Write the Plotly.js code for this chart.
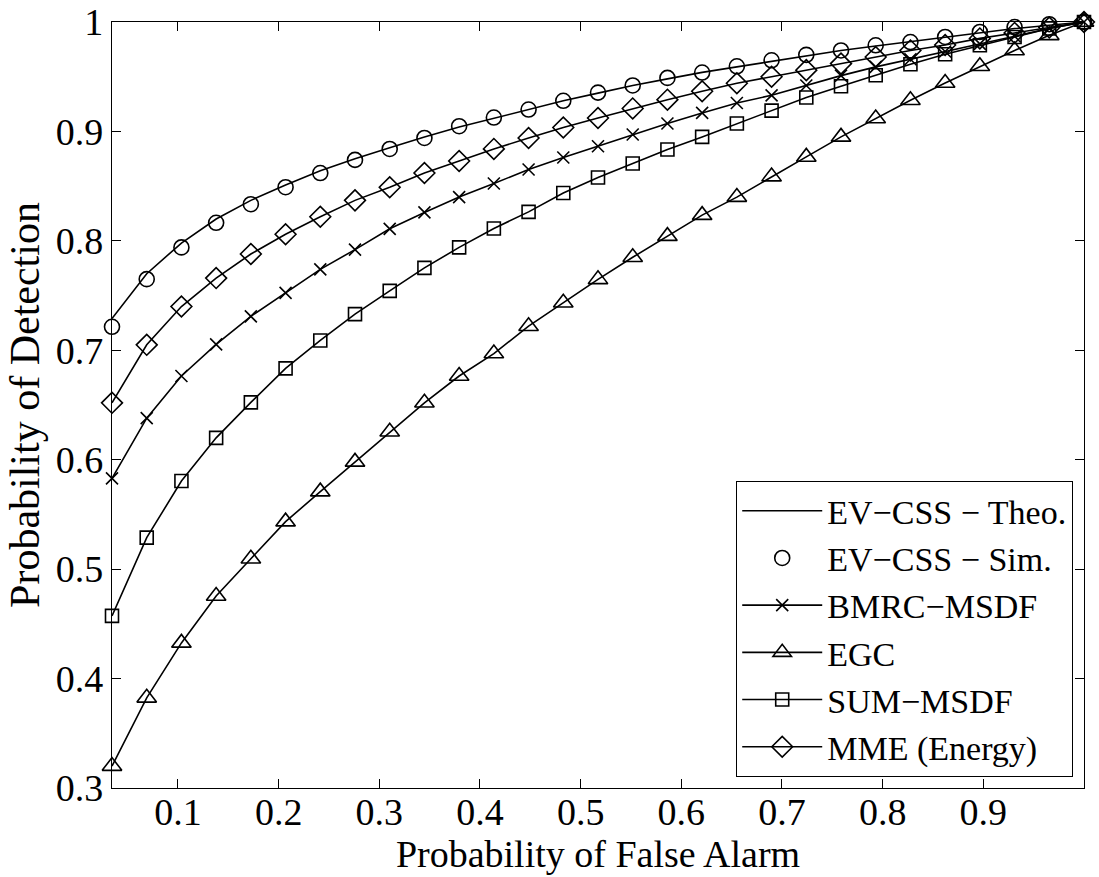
<!DOCTYPE html>
<html>
<head>
<meta charset="utf-8">
<script src="https://cdn.plot.ly/plotly-3.0.1.min.js"></script>
<style>html,body{margin:0;padding:0;background:#fff;}#chart{width:1099px;height:877px;}</style>
</head>
<body>
<div id="chart"></div>
<script>
// Probability of False Alarm (x)
var pfa = [0.03448,0.06897,0.10345,0.13793,0.17241,0.2069,0.24138,0.27586,0.31034,0.34483,
           0.37931,0.41379,0.44828,0.48276,0.51724,0.55172,0.58621,0.62069,0.65517,0.68966,
           0.72414,0.75862,0.7931,0.82759,0.86207,0.89655,0.93103,0.96552,1.0];

var evTheo = [0.729,0.770,0.798,0.820,0.837,0.851,0.864,0.875,0.885,0.895,0.904,0.912,0.920,0.928,0.935,
              0.942,0.948,0.954,0.959,0.964,0.969,0.974,0.978,0.982,0.986,0.990,0.994,0.997,1.0];
var evSim  = [0.7215,0.765,0.794,0.8165,0.8335,0.849,0.862,0.874,0.884,0.894,0.9048,0.9127,0.920,0.928,0.9355,
              0.942,0.9489,0.9538,0.9595,0.965,0.970,0.974,0.9787,0.9817,0.9863,0.9909,0.9954,0.998,1.0];
var bmrc   = [0.583,0.638,0.6765,0.7054,0.731,0.7525,0.774,0.792,0.811,0.826,0.840,0.8524,0.8652,0.8762,0.8865,
              0.8972,0.9072,0.9169,0.926,0.933,0.942,0.951,0.959,0.966,0.973,0.980,0.987,0.994,1.0];
var egc    = [0.320,0.3824,0.4326,0.4755,0.5095,0.5434,0.5708,0.598,0.6256,0.652,0.6765,0.697,0.722,0.7434,0.7648,
              0.785,0.8043,0.8235,0.840,0.8587,0.8767,0.895,0.9118,0.9285,0.9443,0.9595,0.974,0.9878,1.0];
var sumMsdf= [0.4573,0.5288,0.5805,0.620,0.6524,0.6835,0.709,0.733,0.7543,0.7753,0.794,0.8113,0.8265,0.8438,0.8579,
              0.8707,0.8835,0.895,0.9072,0.919,0.931,0.9413,0.9513,0.9614,0.9705,0.9787,0.9863,0.994,1.0];
var mme    = [0.652,0.705,0.740,0.766,0.788,0.806,0.822,0.837,0.849,0.862,0.873,0.884,0.894,0.9036,0.9123,
              0.921,0.929,0.9367,0.944,0.950,0.956,0.962,0.968,0.974,0.979,0.985,0.990,0.995,1.0];

var names = ['EV\u2212CSS \u2212 Theo.','EV\u2212CSS \u2212 Sim.','BMRC\u2212MSDF','EGC','SUM\u2212MSDF','MME (Energy)'];
var xTicks = [0.1,0.2,0.3,0.4,0.5,0.6,0.7,0.8,0.9];
var yTicks = [0.3,0.4,0.5,0.6,0.7,0.8,0.9,1];

var black = '#000';
var lineStyle = {color: black, width: 1.6};
function mk(sym, size){ return {symbol: sym, size: size, color: black, line: {color: black, width: 1.6}}; }

var traces = [
  {x: pfa, y: evTheo, name: names[0], mode: 'lines', line: lineStyle, cliponaxis: false},
  {x: pfa, y: evSim, name: names[1], mode: 'markers', marker: mk('circle-open', 15), cliponaxis: false},
  {x: pfa, y: bmrc, name: names[2], mode: 'lines+markers', line: lineStyle, marker: mk('x-thin-open', 12), cliponaxis: false},
  {x: pfa, y: egc, name: names[3], mode: 'lines+markers', line: lineStyle, marker: mk('triangle-up-open', 17), cliponaxis: false},
  {x: pfa, y: sumMsdf, name: names[4], mode: 'lines+markers', line: lineStyle, marker: mk('square-open', 13), cliponaxis: false},
  {x: pfa, y: mme, name: names[5], mode: 'lines+markers', line: lineStyle, marker: mk('diamond-open', 16), cliponaxis: false}
];

var fontFam = '"Liberation Serif", "Times New Roman", serif';
var layout = {
  width: 1099, height: 877,
  margin: {l: 112, r: 15, t: 22, b: 89, pad: 0},
  paper_bgcolor: '#fff', plot_bgcolor: '#fff',
  font: {family: fontFam, size: 38, color: black},
  showlegend: true,
  xaxis: {
    range: [0.03448, 1], tickvals: xTicks, ticktext: xTicks.map(String),
    showgrid: false, zeroline: false, showline: true, linecolor: black, linewidth: 1.2,
    mirror: 'allticks', ticks: 'inside', ticklen: 9, tickcolor: black, tickwidth: 1,
    ticklabelstandoff: -10,
    tickfont: {family: fontFam, size: 38, color: black},
    title: {text: 'Probability of False Alarm', font: {family: fontFam, size: 38, color: black}, standoff: 0}
  },
  yaxis: {
    range: [0.3, 1], tickvals: yTicks, ticktext: yTicks.map(String),
    showgrid: false, zeroline: false, showline: true, linecolor: black, linewidth: 1.2,
    mirror: 'allticks', ticks: 'inside', ticklen: 9, tickcolor: black, tickwidth: 1,
    tickfont: {family: fontFam, size: 38, color: black},
    title: {text: 'Probability of Detection', font: {family: fontFam, size: 42, color: black}, standoff: 3}
  },
  legend: {
    x: 0.9887, y: 0.0144, xanchor: 'right', yanchor: 'bottom',
    bgcolor: '#fff', bordercolor: black, borderwidth: 1.2,
    font: {family: fontFam, size: 34, color: black},
    itemwidth: 80, tracegroupgap: 0
  }
};

Plotly.newPlot('chart', traces, layout, {displayModeBar: false, staticPlot: true});
</script>
</body>
</html>
